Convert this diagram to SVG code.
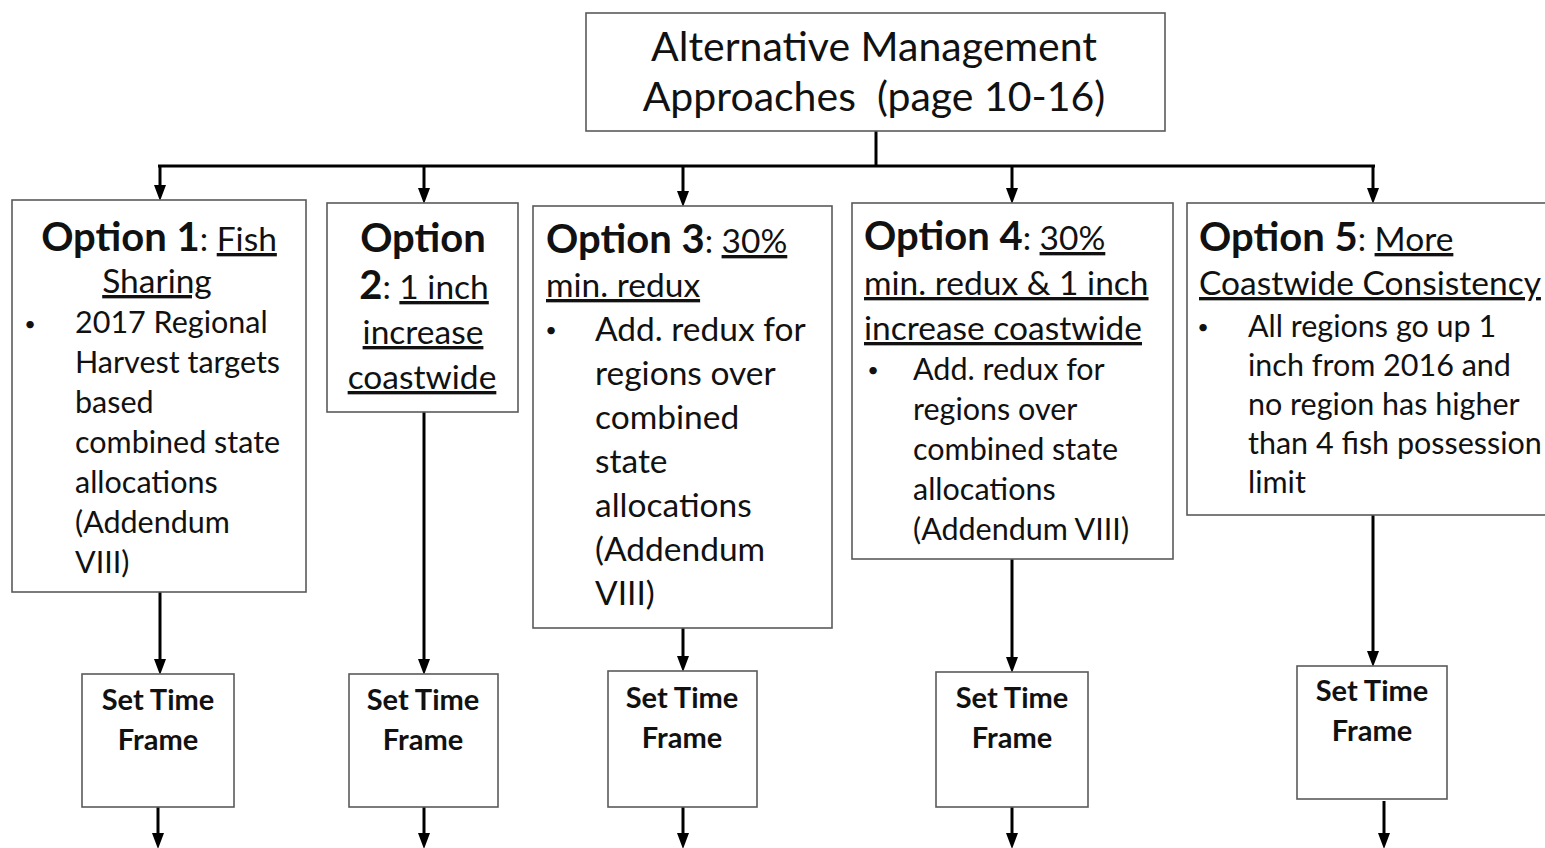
<svg xmlns="http://www.w3.org/2000/svg" width="1545" height="848" viewBox="0 0 1545 848">
<style>
text{font-family:Lato,"Liberation Sans",sans-serif;fill:#111;}
.box{fill:#fff;stroke:#5a5a5a;stroke-width:1.6;}
.t{font-size:41px;}
.h{font-size:40px;font-weight:bold;}
.r{font-size:33.5px;font-weight:normal;}
.u{text-decoration:underline;font-weight:normal;}
.b{font-size:30.5px;}
.b3{font-size:33.5px;}
.bu{font-size:20px;text-anchor:middle;}
.s{font-size:29px;font-weight:bold;text-anchor:middle;}
.m{text-anchor:middle;}
.c{fill:none;stroke:#000;stroke-width:3;}
</style>
<defs>
<marker id="ah" viewBox="0 0 16 12" refX="3" refY="6" markerWidth="16" markerHeight="12" markerUnits="userSpaceOnUse" orient="auto">
<path d="M0,0 L16,6 L0,12 z" fill="#000"/>
</marker>
</defs>
<g id="connectors">
<path class="c" d="M876,131 V166"/>
<path class="c" d="M158,166 H1375"/>
<path class="c" d="M160,166 V188" marker-end="url(#ah)"/>
<path class="c" d="M424,166 V191" marker-end="url(#ah)"/>
<path class="c" d="M683,166 V194" marker-end="url(#ah)"/>
<path class="c" d="M1012,166 V191" marker-end="url(#ah)"/>
<path class="c" d="M1373,166 V191" marker-end="url(#ah)"/>
<path class="c" d="M160,592 V662" marker-end="url(#ah)"/>
<path class="c" d="M424,412 V662" marker-end="url(#ah)"/>
<path class="c" d="M683,628 V659" marker-end="url(#ah)"/>
<path class="c" d="M1012,559 V660" marker-end="url(#ah)"/>
<path class="c" d="M1373,515 V654" marker-end="url(#ah)"/>
<path class="c" d="M158,807 V836" marker-end="url(#ah)"/>
<path class="c" d="M424,807 V836" marker-end="url(#ah)"/>
<path class="c" d="M683,807 V836" marker-end="url(#ah)"/>
<path class="c" d="M1012,807 V836" marker-end="url(#ah)"/>
<path class="c" d="M1384,801 V836" marker-end="url(#ah)"/>
</g>
<g id="root">
<rect class="box" x="586" y="13" width="579" height="118"/>
<text class="t m" x="874" y="61">Alternative Management</text>
<text class="t m" x="874" y="111" xml:space="preserve">Approaches  (page 10-16)</text>
</g>
<g id="opt1">
<rect class="box" x="12" y="200" width="294" height="392"/>
<text class="h m" x="159" y="251">Option 1<tspan class="r">: </tspan><tspan class="r u">Fish</tspan></text>
<text class="r u m" x="157" y="293">Sharing</text>
<text class="bu" x="30" y="331">•</text>
<text class="b" x="75" y="333">2017 Regional</text>
<text class="b" x="75" y="373">Harvest targets</text>
<text class="b" x="75" y="413">based</text>
<text class="b" x="75" y="453">combined state</text>
<text class="b" x="75" y="493">allocations</text>
<text class="b" x="75" y="533">(Addendum</text>
<text class="b" x="75" y="573">VIII)</text>
</g>
<g id="opt2">
<rect class="box" x="327" y="203" width="191" height="209"/>
<text class="h m" x="423" y="252">Option</text>
<text class="h m" x="424" y="299">2<tspan class="r">: </tspan><tspan class="r u">1 inch</tspan></text>
<text class="r u m" x="423" y="344">increase</text>
<text class="r u m" x="422" y="389">coastwide</text>
</g>
<g id="opt3">
<rect class="box" x="533" y="206" width="299" height="422"/>
<text class="h" x="546" y="253">Option 3<tspan class="r">: </tspan><tspan class="r u">30%</tspan></text>
<text class="r u" x="546" y="297">min. redux</text>
<text class="bu" x="551" y="337">•</text>
<text class="b3" x="595" y="341">Add. redux for</text>
<text class="b3" x="595" y="385">regions over</text>
<text class="b3" x="595" y="429">combined</text>
<text class="b3" x="595" y="473">state</text>
<text class="b3" x="595" y="517">allocations</text>
<text class="b3" x="595" y="561">(Addendum</text>
<text class="b3" x="595" y="605">VIII)</text>
</g>
<g id="opt4">
<rect class="box" x="852" y="203" width="321" height="356"/>
<text class="h" x="864" y="250">Option 4<tspan class="r">: </tspan><tspan class="r u">30%</tspan></text>
<text class="r u" x="864" y="295">min. redux &amp; 1 inch</text>
<text class="r u" x="864" y="340">increase coastwide</text>
<text class="bu" x="873" y="377">•</text>
<text class="b" x="913" y="380">Add. redux for</text>
<text class="b" x="913" y="420">regions over</text>
<text class="b" x="913" y="460">combined state</text>
<text class="b" x="913" y="500">allocations</text>
<text class="b" x="913" y="540">(Addendum VIII)</text>
</g>
<g id="opt5">
<rect class="box" x="1187" y="203" width="370" height="312"/>
<text class="h" x="1199" y="251">Option 5<tspan class="r">: </tspan><tspan class="r u">More</tspan></text>
<text class="r u" x="1199" y="295">Coastwide Consistency</text>
<text class="bu" x="1203" y="334">•</text>
<text class="b" x="1248" y="337">All regions go up 1</text>
<text class="b" x="1248" y="376">inch from 2016 and</text>
<text class="b" x="1248" y="415">no region has higher</text>
<text class="b" x="1248" y="454">than 4 fish possession</text>
<text class="b" x="1248" y="493">limit</text>
</g>
<g id="tf1">
<rect class="box" x="82" y="674" width="152" height="133"/>
<text class="s" x="158" y="710">Set Time</text>
<text class="s" x="158" y="750">Frame</text>
</g>
<g id="tf2">
<rect class="box" x="349" y="674" width="149" height="133"/>
<text class="s" x="423" y="710">Set Time</text>
<text class="s" x="423" y="750">Frame</text>
</g>
<g id="tf3">
<rect class="box" x="608" y="671" width="149" height="136"/>
<text class="s" x="682" y="708">Set Time</text>
<text class="s" x="682" y="748">Frame</text>
</g>
<g id="tf4">
<rect class="box" x="936" y="672" width="152" height="135"/>
<text class="s" x="1012" y="708">Set Time</text>
<text class="s" x="1012" y="748">Frame</text>
</g>
<g id="tf5">
<rect class="box" x="1297" y="666" width="150" height="133"/>
<text class="s" x="1372" y="701">Set Time</text>
<text class="s" x="1372" y="741">Frame</text>
</g>
</svg>
